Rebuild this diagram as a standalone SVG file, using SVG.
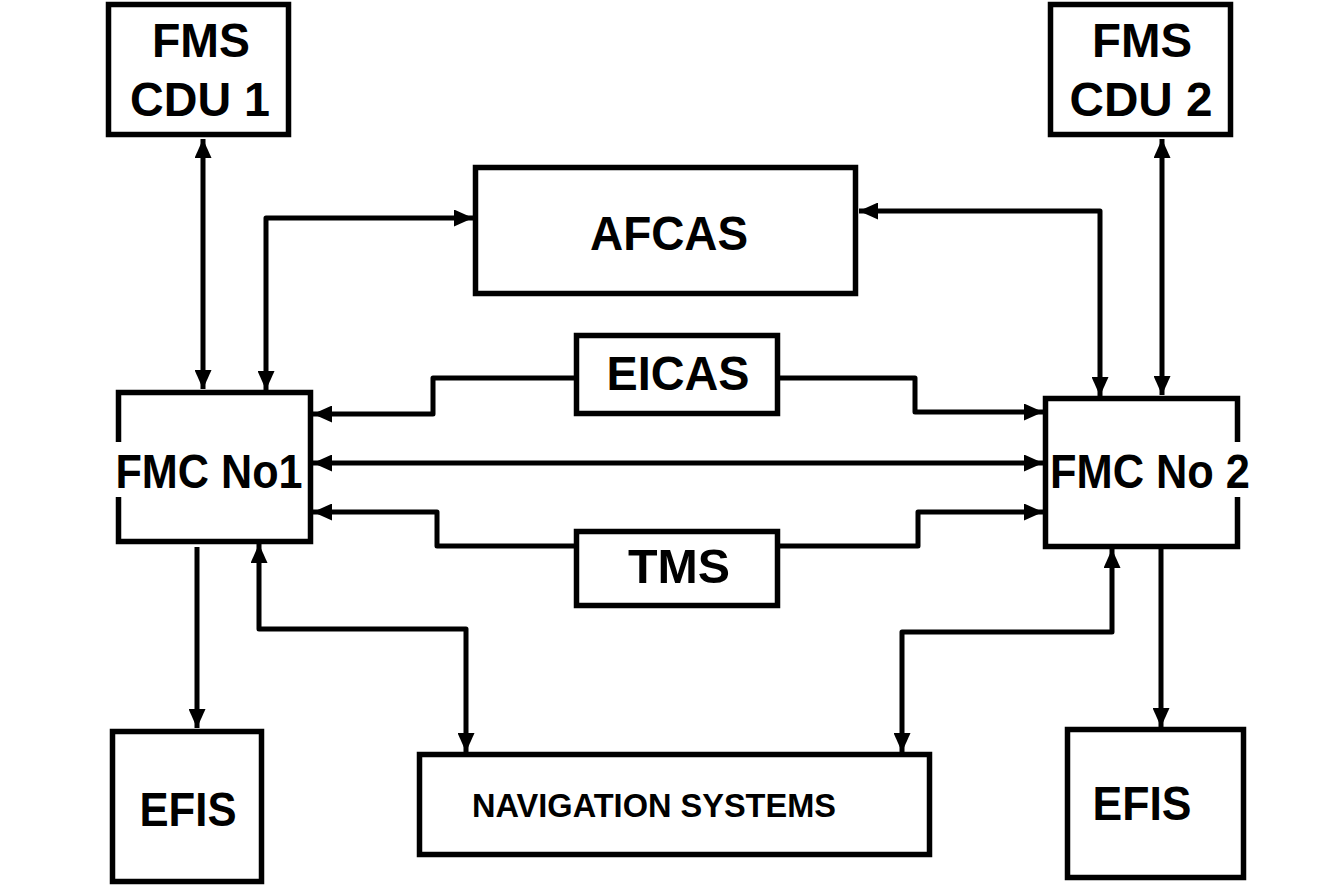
<svg xmlns="http://www.w3.org/2000/svg" width="1341" height="890" viewBox="0 0 1341 890">
<style>
.box{fill:none;stroke:#000;stroke-width:5.5}
.ln{fill:none;stroke:#000;stroke-width:5;stroke-linejoin:round}
.t{font-family:"Liberation Sans",Arial,sans-serif;font-weight:bold;fill:#000;text-anchor:middle}
.big{font-size:48px}
</style>
<defs>
<marker id="ah" viewBox="0 0 10 10" refX="10" refY="5" markerWidth="19" markerHeight="17" markerUnits="userSpaceOnUse" orient="auto-start-reverse" preserveAspectRatio="none">
<path d="M0,0 L10,5 L0,10 z" fill="#000"/>
</marker>
</defs>
<rect width="1341" height="890" fill="#fff"/>
<g id="connectors">
<path class="ln" d="M203,139 V389" marker-start="url(#ah)" marker-end="url(#ah)"/>
<path class="ln" d="M1162,139 V395" marker-start="url(#ah)" marker-end="url(#ah)"/>
<path class="ln" d="M266,390 V218 H473" marker-start="url(#ah)" marker-end="url(#ah)"/>
<path class="ln" d="M859,211 H1100 V396" marker-start="url(#ah)" marker-end="url(#ah)"/>
<path class="ln" d="M576,378 H433 V414 H313" marker-end="url(#ah)"/>
<path class="ln" d="M778,378 H915 V412 H1043" marker-end="url(#ah)"/>
<path class="ln" d="M313,463 H1043" marker-start="url(#ah)" marker-end="url(#ah)"/>
<path class="ln" d="M313,512 H437 V546 H576" marker-start="url(#ah)"/>
<path class="ln" d="M778,546 H918 V512 H1043" marker-end="url(#ah)"/>
<path class="ln" d="M197,547 V728" marker-end="url(#ah)"/>
<path class="ln" d="M259,544 V629 H466 V752" marker-start="url(#ah)" marker-end="url(#ah)"/>
<path class="ln" d="M1112,549 V632 H902 V752" marker-start="url(#ah)" marker-end="url(#ah)"/>
<path class="ln" d="M1161,549 V727" marker-end="url(#ah)"/>
</g>
<g id="cdu1">
<rect class="box" x="108.5" y="4.5" width="180" height="130"/>
<text class="t big" x="201" y="57" textLength="98" lengthAdjust="spacingAndGlyphs">FMS</text>
<text class="t big" x="200" y="116" textLength="140" lengthAdjust="spacingAndGlyphs">CDU 1</text>
</g>
<g id="cdu2">
<rect class="box" x="1050.5" y="4.5" width="180" height="130"/>
<text class="t big" x="1142" y="57" textLength="100" lengthAdjust="spacingAndGlyphs">FMS</text>
<text class="t big" x="1141" y="116" textLength="143" lengthAdjust="spacingAndGlyphs">CDU 2</text>
</g>
<g id="afcas">
<rect class="box" x="475.5" y="167.5" width="380" height="126"/>
<text class="t big" x="669" y="250" textLength="158" lengthAdjust="spacingAndGlyphs">AFCAS</text>
</g>
<g id="eicas">
<rect class="box" x="576.5" y="335.5" width="201" height="78"/>
<text class="t big" x="678" y="390" textLength="143" lengthAdjust="spacingAndGlyphs">EICAS</text>
</g>
<g id="tms">
<rect class="box" x="576.5" y="531.5" width="201" height="74"/>
<text class="t big" x="679" y="583" textLength="102" lengthAdjust="spacingAndGlyphs">TMS</text>
</g>
<g id="fmc1">
<path class="box" d="M118.5,442 V392.5 H310.5 V541.5 H118.5 V497"/>
<text class="t big" x="209" y="488" textLength="187" lengthAdjust="spacingAndGlyphs">FMC No1</text>
</g>
<g id="fmc2">
<path class="box" d="M1237.5,442 V398.5 H1045.5 V546.5 H1237.5 V497"/>
<text class="t big" x="1150" y="488" textLength="200" lengthAdjust="spacingAndGlyphs">FMC No 2</text>
</g>
<g id="efis1">
<rect class="box" x="112.5" y="731.5" width="149" height="150"/>
<text class="t big" x="188" y="826" textLength="97" lengthAdjust="spacingAndGlyphs">EFIS</text>
</g>
<g id="efis2">
<rect class="box" x="1067.5" y="729.5" width="176" height="148"/>
<text class="t big" x="1142" y="820" textLength="99" lengthAdjust="spacingAndGlyphs">EFIS</text>
</g>
<g id="nav">
<rect class="box" x="419.5" y="754.5" width="510" height="100"/>
<text class="t" x="654" y="817" font-size="34" textLength="364" lengthAdjust="spacingAndGlyphs">NAVIGATION SYSTEMS</text>
</g>
</svg>
